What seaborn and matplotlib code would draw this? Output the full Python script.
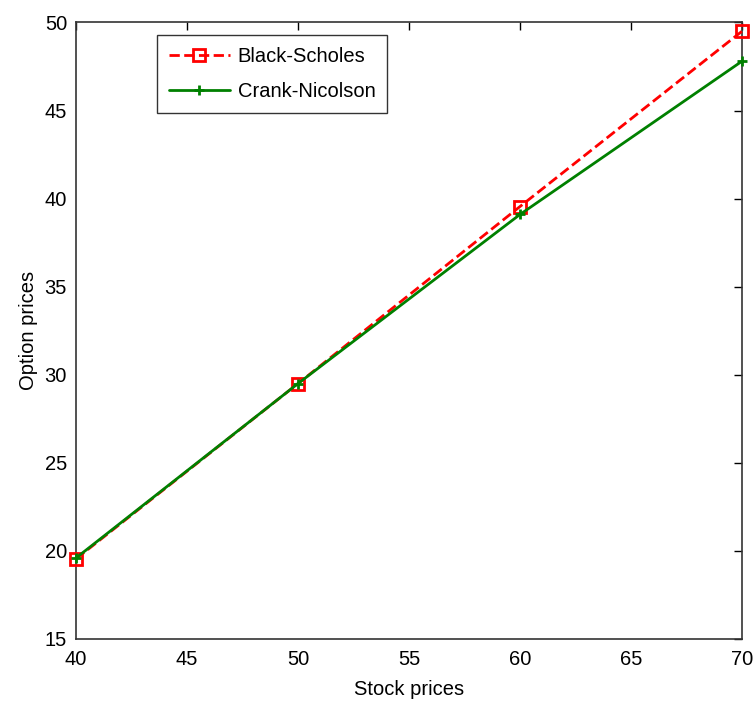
import matplotlib
matplotlib.use("Agg")
import matplotlib.pyplot as plt
import seaborn as sns
import pandas as pd

# values
stock_prices = [40, 50, 60, 70]
black_scholes = [19.55, 29.5, 39.55, 49.5]
crank_nicolson = [19.6, 29.5, 39.1, 47.8]

bs_df = pd.DataFrame({"Stock prices": stock_prices, "Option prices": black_scholes})
cn_df = pd.DataFrame({"Stock prices": stock_prices, "Option prices": crank_nicolson})

sns.set_style("white")
plt.rcParams["font.family"] = ["Liberation Sans", "DejaVu Sans"]
plt.rcParams["text.color"] = "black"
plt.rcParams["axes.labelcolor"] = "black"

fig = plt.figure(figsize=(7.55, 7.07), dpi=100)
ax = fig.add_axes([0.1007, 0.0962, 0.882, 0.872])

sns.lineplot(data=bs_df, x="Stock prices", y="Option prices", ax=ax, color="red")
sns.lineplot(data=cn_df, x="Stock prices", y="Option prices", ax=ax, color="green")

bs_line, cn_line = ax.lines[0], ax.lines[1]
bs_line.set(linestyle="--", linewidth=2, marker="s", markersize=8.5,
            markerfacecolor="none", markeredgecolor="red", markeredgewidth=2,
            label="Black-Scholes", clip_on=False, zorder=3)
cn_line.set(linestyle="-", linewidth=2, marker="+", markersize=7,
            markeredgecolor="green", markeredgewidth=2,
            label="Crank-Nicolson", clip_on=False, zorder=4)

ax.set_xlim(40, 70)
ax.set_ylim(15, 50)
ax.set_xticks(range(40, 71, 5))
ax.set_yticks(range(15, 51, 5))
ax.tick_params(direction="in", length=6, width=1, labelsize=14.5, pad=8,
               top=True, right=True, labeltop=False, labelright=False, colors="black")
ax.tick_params(axis="y", pad=6.5)
for s in ax.spines.values():
    s.set_color("#333333")
    s.set_linewidth(1.2)
ax.set_xlabel("Stock prices", fontsize=14.5, labelpad=8, color="black")
ax.set_ylabel("Option prices", fontsize=14.5, labelpad=5, color="black")

leg = ax.legend(handles=[bs_line, cn_line], loc="upper left",
                bbox_to_anchor=(0.1216, 0.9805), borderaxespad=0, fontsize=14.5,
                frameon=True, fancybox=False, edgecolor="black", handlelength=3.0,
                labelspacing=0.8, borderpad=0.6, handletextpad=0.4)
leg.get_frame().set_linewidth(1)
for t in leg.get_texts():
    t.set_color("black")

fig.savefig("out.png", dpi=100)
